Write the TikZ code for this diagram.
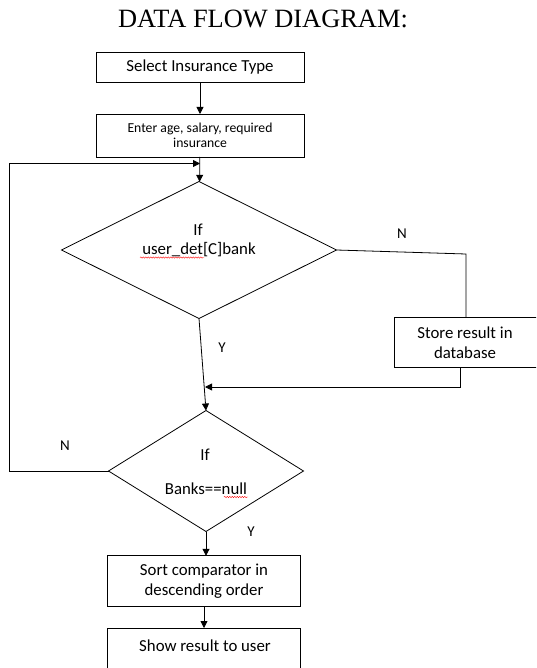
\documentclass[tikz,border=0pt]{standalone}
\usepackage{fontspec}
\setmainfont{Carlito}
\newfontfamily\titlefont{Liberation Serif}
\usetikzlibrary{shapes.geometric,arrows.meta,decorations.pathmorphing}
\begin{document}
\begin{tikzpicture}[x=1pt,y=-1pt,
box/.style={draw, line width=0.8pt, inner sep=0pt, outer sep=0pt, align=center, font=\fontsize{16.8}{20}\selectfont},
dec/.style={draw, diamond, line width=0.8pt, inner sep=0pt, outer sep=0pt},
txt/.style={inner sep=0pt, font=\fontsize{16.8}{20}\selectfont},
lbl/.style={inner sep=0pt, font=\fontsize{15}{18}\selectfont},
flow/.style={line width=0.8pt},
arr/.style={line width=0.8pt, -{Triangle[length=7pt,width=7pt]}},
squig/.style={red, line width=0.4pt, decorate, decoration={snake, segment length=2.5pt, amplitude=0.7pt}}]
\useasboundingbox (0,0) rectangle (536,668);
\clip (0,0) rectangle (536,668);
\node[inner sep=0pt, font=\titlefont\fontsize{26.4}{30}\selectfont] (title) at (263,19){DATA FLOW DIAGRAM:};
\node[box, minimum width=208pt, minimum height=30pt] (b1) at (200,67.5){Select Insurance Type};
\node[box, minimum width=208pt, minimum height=43pt, font=\fontsize{13.7}{15.5}\selectfont] (b2) at (200,135.5){Enter age, salary, required\\insurance};
\node[dec, minimum width=275pt, minimum height=137pt] (d1) at (199,250){};
\node[txt] (d1if) at (198,230){If};
\node[txt] (d1cond) at (199,250){user\_det[C]bank};
\node[draw, line width=0.8pt, inner sep=0pt, outer sep=0pt, minimum width=150pt, minimum height=50pt] (store) at (469,342){};
\node[txt, align=center] (storetxt) at (465,343){Store result in\\database};
\node[dec, minimum width=195pt, minimum height=121pt] (d2) at (206,471){};
\node[txt] (d2if) at (205,455){If};
\node[txt] (d2cond) at (206,489){Banks==null};
\node[box, minimum width=193pt, minimum height=51pt] (b3) at (204,581.3){Sort comparator in\\descending order};
\node[box, minimum width=193pt, minimum height=60pt] (b4) at (204,658){};
\node[txt] (b4txt) at (205,646){Show result to user};
\node[lbl] (n1) at (402,234){N};
\node[lbl] (y1) at (222,348){Y};
\node[lbl] (n2) at (65,446){N};
\node[lbl] (y2) at (251,532){Y};
\coordinate (back) at (200,163.5);
\coordinate (leftcorner) at (9,471);
\coordinate (join) at (205,387);
\coordinate (entry) at (466,317);
\coordinate (exit) at (460,367);
\draw[arr](b1) -- (b2);
\draw[arr](b2) -- (d1);
\draw[flow](d1.east) -- (466,254) -- (entry);
\draw[arr](exit) |- (join);
\draw[arr](d1.south) -- (d2.north);
\draw[arr](d2.west) -- (leftcorner) |- (back);
\draw[arr](d2.south) -- (d2.south |- b3.north);
\draw[arr](b3) -- (b4);
\draw[squig](140,257.5) -- (204,257.5);
\draw[squig](224,497) -- (248,497);
\end{tikzpicture}
\end{document}
